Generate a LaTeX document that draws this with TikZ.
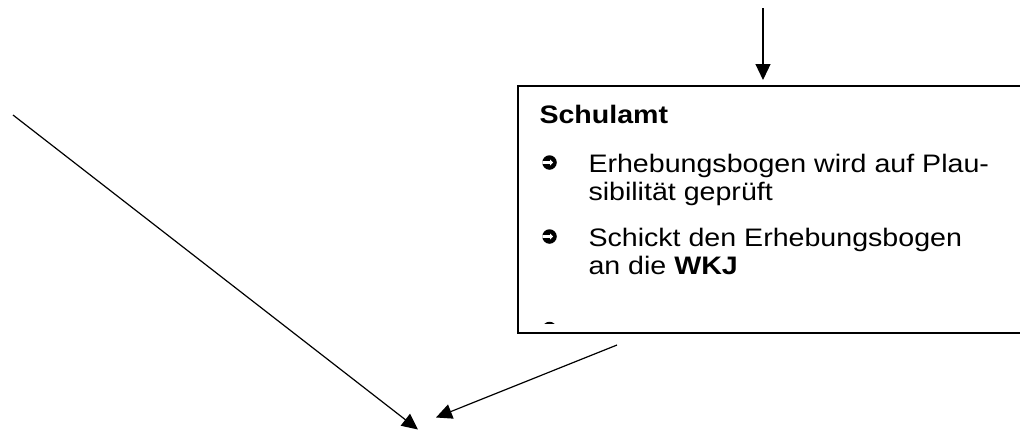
\documentclass[tikz,border=0pt]{standalone}
\usepackage{fontspec}
\usetikzlibrary{arrows.meta}
\newfontfamily\arialx{Liberation Sans}[FakeStretch=1.13]
\tikzset{
  txt/.style={anchor=base west, inner sep=0pt, font=\arialx\fontsize{25.3pt}{27.3pt}\selectfont},
  conn/.style={line width=1.2pt, -{Triangle[length=16pt,width=15pt]}},
  bul/.style={circle, fill=black, minimum size=14.5pt, inner sep=0pt,
    path picture={
      \fill[white] ([xshift=-1pt,yshift=-1.4pt]path picture bounding box.west) rectangle ([xshift=1pt,yshift=1.4pt]path picture bounding box.center);
      \fill[white] ([xshift=0.5pt,yshift=-3pt]path picture bounding box.center) -- ([xshift=3.6pt]path picture bounding box.center) -- ([xshift=0.5pt,yshift=3pt]path picture bounding box.center) -- cycle;
    }},
  boxstyle/.style={draw, line width=1.8pt, anchor=north west, minimum width=520pt, minimum height=247pt, inner sep=0pt},
}
\begin{document}
\begin{tikzpicture}[x=1pt,y=-1pt]
  \useasboundingbox[fill=white] (0,0) rectangle (1020,432);
  \begin{scope}
    \clip (0,0) rectangle (1020,432);
    \node[boxstyle] (box) at (517,85) {};
  \end{scope}
  \node[txt, font=\arialx\bfseries\fontsize{25.3pt}{27.3pt}\selectfont] (title) at (539.3,123.3) {Schulamt};
  \node[bul] (b1) at (549.5,162.5) {};
  \node[txt] (l1) at (588.3,172.7) {Erhebungsbogen wird auf Plau-};
  \node[txt] (l2) at (588.3,200.5) {sibilität geprüft};
  \node[bul] (b2) at (549.5,236.5) {};
  \node[txt] (l3) at (588.3,246.7) {Schickt den Erhebungsbogen};
  \node[txt] (l4) at (588.3,274.5) {an die \textbf{WKJ}};
  \begin{scope}
    \clip (517,85) rectangle (1020,323);
    \node[bul] (b3) at (549.5,329) {};
  \end{scope}
  \coordinate (t0) at (763,8);
  \coordinate (t1) at (763,80);
  \coordinate (l0) at (13,115);
  \coordinate (lt) at (418,429.5);
  \coordinate (r0) at (617,345);
  \coordinate (rt) at (436,417.5);
  \draw[conn] (t0) -- (t1);
  \draw[conn] (l0) -- (lt);
  \draw[conn] (r0) -- (rt);
\end{tikzpicture}
\end{document}
